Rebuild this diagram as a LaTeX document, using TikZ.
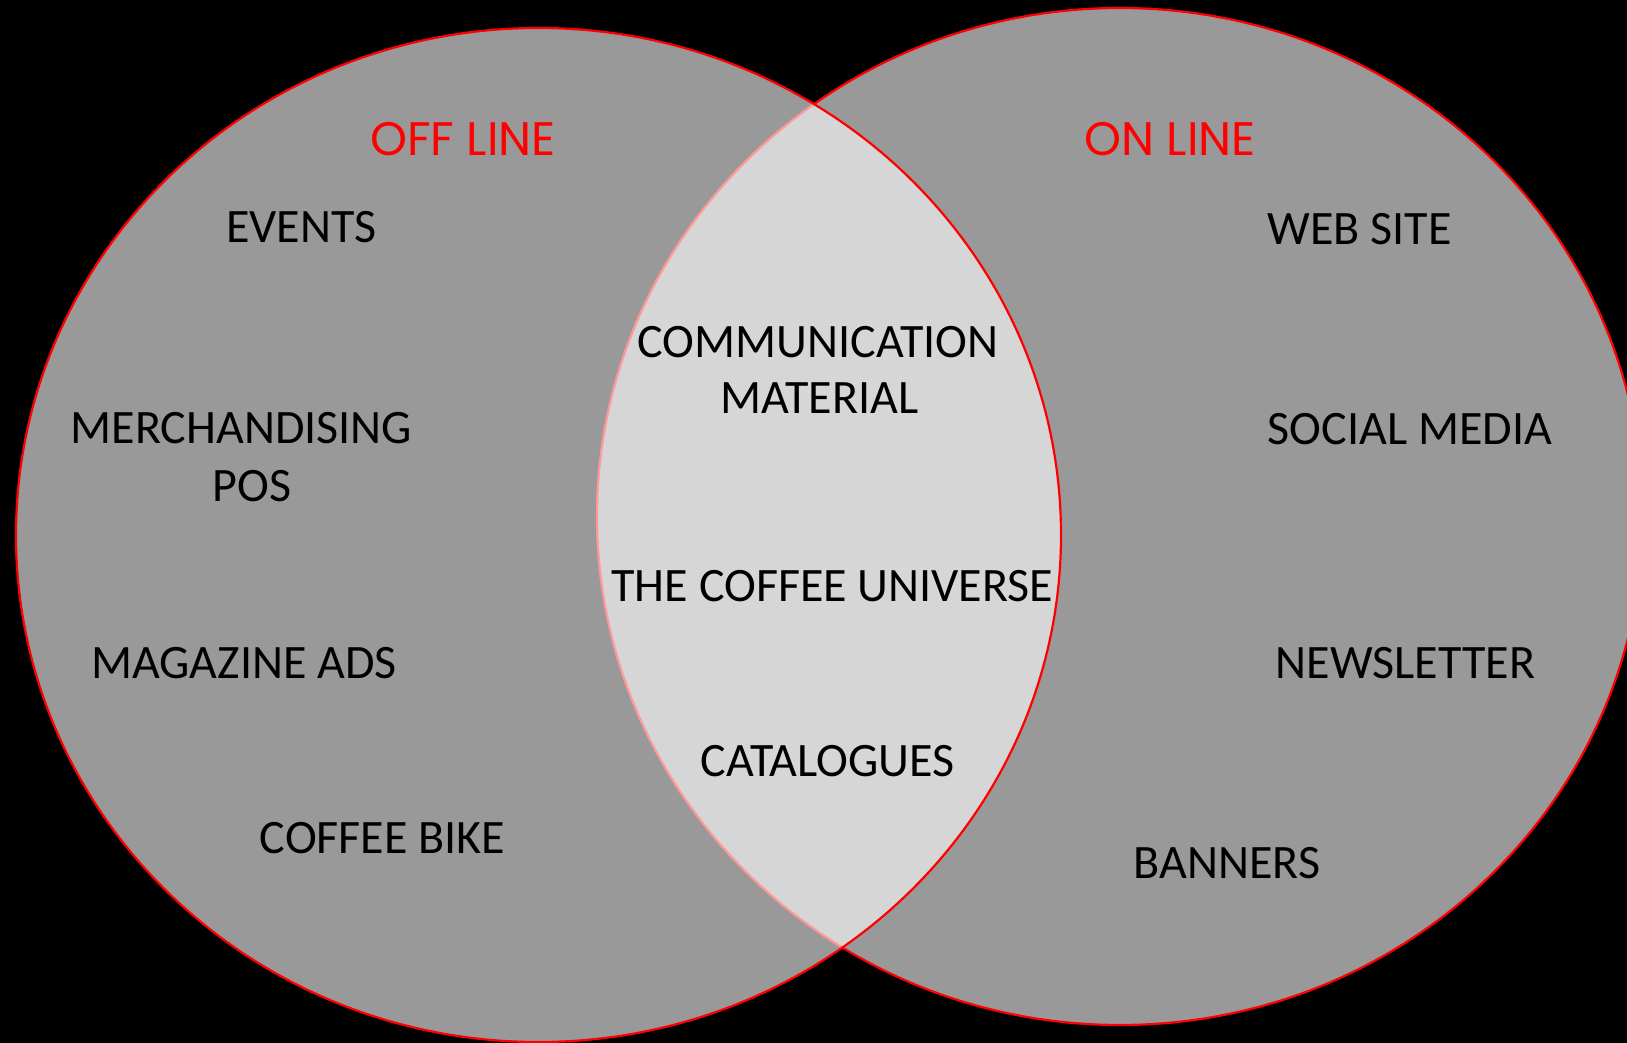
\documentclass[tikz,border=0pt]{standalone}
\usepackage{fontspec}
\setmainfont{Carlito}
\newfontfamily\redfont{Poppins}
\begin{document}
\begin{tikzpicture}[x=1pt,y=-1pt,
  circ/.style={draw=red, line width=2.2pt, fill=white, fill opacity=0.6},
  lbl/.style={anchor=base, inner sep=0pt, text=black, font=\fontsize{48}{58}\selectfont},
  ttl/.style={anchor=base, inner sep=0pt, text=red, font=\redfont\fontsize{47}{56}\selectfont}]
\fill[black] (0,0) rectangle (1627,1043);
\useasboundingbox (0,0) rectangle (1627,1043);
% right circle first, then left circle on top
\draw[circ] (1120,516.5) ellipse [x radius=523pt, y radius=508.5pt];
\draw[circ] (538.5,535) ellipse [x radius=522.5pt, y radius=507pt];
% titles
\node[ttl] (off) at (463,156) {OFF LINE};
\node[ttl] (on) at (1170,156) {ON LINE};
% off line items
\node[lbl] (events) at (301.5,242) {EVENTS};
\node[lbl] (merch) at (241.5,443) {MERCHANDISING};
\node[lbl] (pos) at (252,501) {POS};
\node[lbl] (mag) at (244,678) {MAGAZINE ADS};
\node[lbl] (bike) at (382.5,853) {COFFEE BIKE};
% common items
\node[lbl] (comm) at (818,357) {COMMUNICATION};
\node[lbl] (mat) at (819.5,413) {MATERIAL};
\node[lbl] (univ) at (832.5,601) {THE COFFEE UNIVERSE};
\node[lbl] (cat) at (827.5,776) {CATALOGUES};
% on line items
\node[lbl] (web) at (1359.5,244) {WEB SITE};
\node[lbl] (social) at (1410,444) {SOCIAL MEDIA};
\node[lbl] (news) at (1405.5,678) {NEWSLETTER};
\node[lbl] (ban) at (1227,878) {BANNERS};
\end{tikzpicture}
\end{document}
